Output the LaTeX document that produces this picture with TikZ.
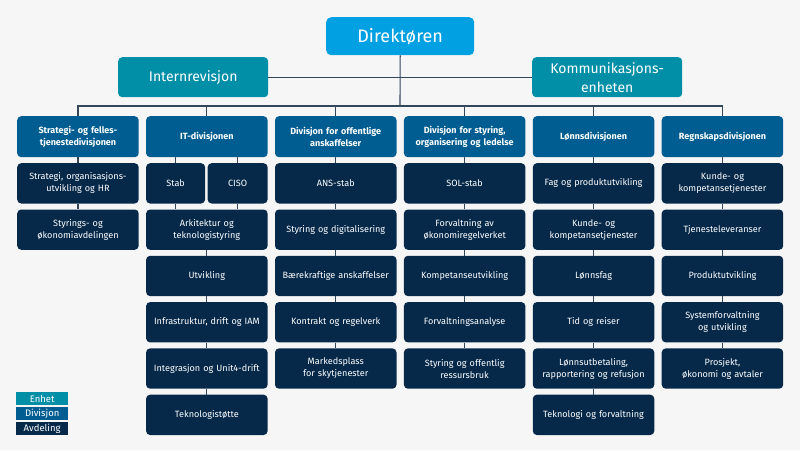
\documentclass[tikz,border=0pt]{standalone}
\usepackage{fontspec}
\setmainfont{Fira Sans}
\definecolor{bgc}{HTML}{F6F6F6}
\definecolor{dirc}{HTML}{00A0E3}
\definecolor{unitc}{HTML}{008FA7}
\definecolor{divc}{HTML}{005D92}
\definecolor{deptc}{HTML}{06294A}
\definecolor{linec}{HTML}{34465A}
\begin{document}
\begin{tikzpicture}[x=1pt,y=-1pt,
  box/.style={rounded corners=4pt, inner sep=0pt, align=center, text=white, anchor=north west,
    minimum height=40.3pt, text width=121.5pt, minimum width=121.5pt},
  dept/.style={box, fill=deptc, font=\fontsize{9.1}{12}\selectfont},
  divbox/.style={box, fill=divc, minimum height=41pt, font=\fontsize{9}{11.7}\selectfont\bfseries},
  unitbox/.style={box, fill=unitc, text width=150pt, minimum width=150pt, minimum height=40pt, font=\fontsize{14}{19}\selectfont},
  conn/.style={draw=linec, line width=1.1pt},
  legbox/.style={inner sep=0pt, anchor=north west, minimum width=52pt, minimum height=13.3pt, text=white, font=\fontsize{9.5}{10}\selectfont}
]
\fill[bgc] (0,0) rectangle (800,450);
\useasboundingbox (0,0) rectangle (800,450);

% top level
\node[box, fill=dirc, text width=148pt, minimum width=148pt, minimum height=38pt, rounded corners=5pt,
  font=\fontsize{18}{20}\selectfont] (dir) at (326,17) {Direktøren};
\node[unitbox] (ir) at (118,57) {Internrevisjon};
\node[unitbox] (ke) at (532,57) {Kommunikasjons-\\enheten};

% divisions
\node[divbox] (d1) at (17,116) {Strategi- og felles-\\tjenestedivisjonen};
\node[divbox] (d2) at (145.9,116) {IT-divisjonen};
\node[divbox] (d3) at (274.8,116) {Divisjon for offentlige\\anskaffelser};
\node[divbox] (d4) at (403.7,116) {Divisjon for styring,\\organisering og ledelse};
\node[divbox] (d5) at (532.6,116) {Lønnsdivisjonen};
\node[divbox] (d6) at (661.5,116) {Regnskapsdivisjonen};

% column 1
\node[dept] (a11) at (17,163) {Strategi, organisasjons-\\utvikling og HR};
\node[dept] (a12) at (17,209.3) {Styrings- og\\økonomiavdelingen};

% column 2
\node[dept, text width=59pt, minimum width=59pt] (stab) at (145.9,163) {Stab};
\node[dept, text width=60pt, minimum width=60pt] (ciso) at (207.4,163) {CISO};
\node[dept] (a22) at (145.9,209.3) {Arkitektur og\\teknologistyring};
\node[dept] (a23) at (145.9,255.6) {Utvikling};
\node[dept] (a24) at (145.9,301.9) {Infrastruktur, drift og IAM};
\node[dept] (a25) at (145.9,348.2) {Integrasjon og Unit4-drift};
\node[dept] (a26) at (145.9,394.5) {Teknologistøtte};

% column 3
\node[dept] (a31) at (274.8,163) {ANS-stab};
\node[dept] (a32) at (274.8,209.3) {Styring og digitalisering};
\node[dept] (a33) at (274.8,255.6) {Bærekraftige anskaffelser};
\node[dept] (a34) at (274.8,301.9) {Kontrakt og regelverk};
\node[dept] (a35) at (274.8,348.2) {Markedsplass\\for skytjenester};

% column 4
\node[dept] (a41) at (403.7,163) {SOL-stab};
\node[dept] (a42) at (403.7,209.3) {Forvaltning av\\økonomiregelverket};
\node[dept] (a43) at (403.7,255.6) {Kompetanseutvikling};
\node[dept] (a44) at (403.7,301.9) {Forvaltningsanalyse};
\node[dept] (a45) at (403.7,348.2) {Styring og offentlig\\ressursbruk};

% column 5
\node[dept] (a51) at (532.6,163) {Fag og produktutvikling};
\node[dept] (a52) at (532.6,209.3) {Kunde- og\\kompetansetjenester};
\node[dept] (a53) at (532.6,255.6) {Lønnsfag};
\node[dept] (a54) at (532.6,301.9) {Tid og reiser};
\node[dept] (a55) at (532.6,348.2) {Lønnsutbetaling,\\rapportering og refusjon};
\node[dept] (a56) at (532.6,394.5) {Teknologi og forvaltning};

% column 6
\node[dept] (a61) at (661.5,163) {Kunde- og\\kompetansetjenester};
\node[dept] (a62) at (661.5,209.3) {Tjenesteleveranser};
\node[dept] (a63) at (661.5,255.6) {Produktutvikling};
\node[dept] (a64) at (661.5,301.9) {Systemforvaltning\\og utvikling};
\node[dept] (a65) at (661.5,348.2) {Prosjekt,\\økonomi og avtaler};

% legend
\node[legbox, fill=unitc] (lg1) at (16,391.7) {Enhet};
\node[legbox, fill=divc] (lg2) at (16,406.7) {Divisjon};
\node[legbox, fill=deptc] (lg3) at (16,421.7) {Avdeling};

% connectors
\coordinate (bus) at (400,106);
\draw[conn] (dir.south) -- (bus);
\draw[conn] (ir.east) -- (ke.west);
\draw[conn] (d1.north) -- (d1.north |- bus) -- (d6.north |- bus) -- (d6.north);
\foreach \d in {d2,d3,d4,d5} \draw[conn] (\d.north) -- (\d.north |- bus);

\draw[conn] (d1.south) -- (a11.north);
\draw[conn] (a11.south) -- (a12.north);

\draw[conn] (stab.north |- d2.south) -- (stab.north);
\draw[conn] (ciso.north |- d2.south) -- (ciso.north);
\draw[conn] (stab.south) -- (stab.south |- a22.north);
\draw[conn] (ciso.south) -- (ciso.south |- a22.north);
\draw[conn] (a22.south) -- (a23.north);
\draw[conn] (a23.south) -- (a24.north);
\draw[conn] (a24.south) -- (a25.north);
\draw[conn] (a25.south) -- (a26.north);

\draw[conn] (d3.south) -- (a31.north);
\draw[conn] (a31.south) -- (a32.north);
\draw[conn] (a32.south) -- (a33.north);
\draw[conn] (a33.south) -- (a34.north);
\draw[conn] (a34.south) -- (a35.north);

\draw[conn] (d4.south) -- (a41.north);
\draw[conn] (a41.south) -- (a42.north);
\draw[conn] (a42.south) -- (a43.north);
\draw[conn] (a43.south) -- (a44.north);
\draw[conn] (a44.south) -- (a45.north);

\draw[conn] (d5.south) -- (a51.north);
\draw[conn] (a51.south) -- (a52.north);
\draw[conn] (a52.south) -- (a53.north);
\draw[conn] (a53.south) -- (a54.north);
\draw[conn] (a54.south) -- (a55.north);
\draw[conn] (a55.south) -- (a56.north);

\draw[conn] (d6.south) -- (a61.north);
\draw[conn] (a61.south) -- (a62.north);
\draw[conn] (a62.south) -- (a63.north);
\draw[conn] (a63.south) -- (a64.north);
\draw[conn] (a64.south) -- (a65.north);
\end{tikzpicture}
\end{document}
